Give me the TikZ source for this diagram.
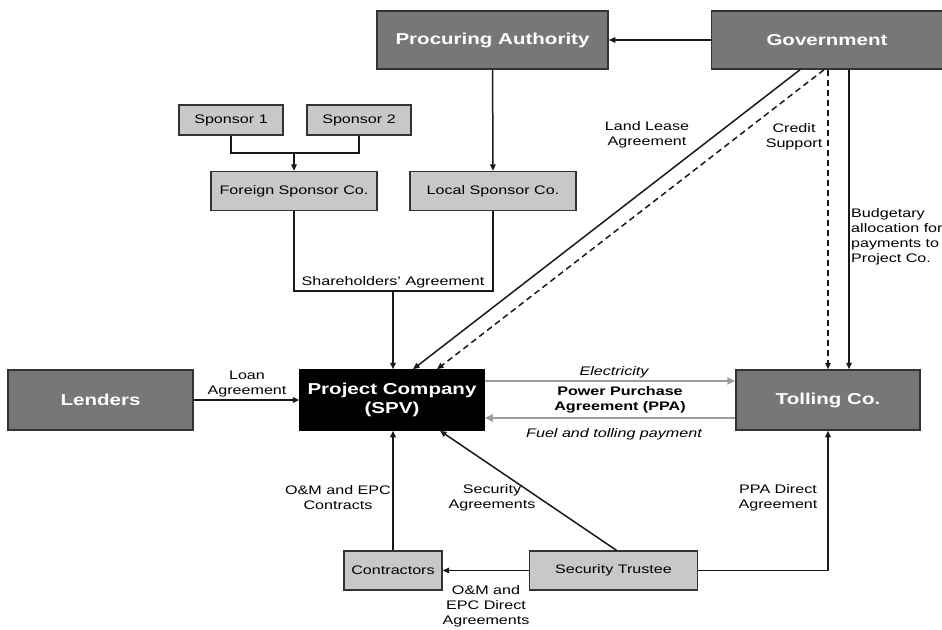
\documentclass[tikz,border=0pt]{standalone}
\usepackage{fontspec}
\setmainfont{Liberation Sans}[FakeStretch=1.3]
\usetikzlibrary{arrows.meta, positioning, calc}
\definecolor{darkbox}{HTML}{777777}
\definecolor{lightbox}{HTML}{C8C8C8}
\definecolor{edgegray}{HTML}{333333}
\definecolor{flowgray}{HTML}{9C9C9C}

\begin{document}
\begin{tikzpicture}[x=1pt, y=-1pt,
    bigbox/.style={rectangle, draw=edgegray, line width=1.5pt, fill=darkbox, text=white, inner sep=0pt, font=\fontsize{15.8}{19}\selectfont\bfseries, align=center},
    smallbox/.style={rectangle, draw=edgegray, line width=1.3pt, fill=lightbox, inner sep=0pt, font=\fontsize{12.4}{15}\selectfont},
    lbl/.style={font=\fontsize{12.4}{15}\selectfont, align=center, inner sep=0pt},
    link/.style={line width=1.5pt, draw=black!90},
    arr/.style={link, -{Triangle[length=6.5pt, width=5.5pt]}},
    flow/.style={line width=2.6pt, draw=flowgray, -{Triangle[length=8pt, width=7pt]}},
]
\useasboundingbox (0,0) rectangle (942,629);

% Top row
\node[bigbox, minimum width=231pt, minimum height=58pt] (procuring) at (492.5,40) {Procuring Authority};
\node[bigbox, minimum width=231pt, minimum height=58pt] (government) at (827,40) {Government};

% Sponsors
\node[smallbox, minimum width=104pt, minimum height=30pt] (sponsorA) at (231,120) {Sponsor 1};
\node[smallbox, minimum width=104pt, minimum height=30pt] (sponsorB) at (359,120) {Sponsor 2};
\node[smallbox, minimum width=166pt, minimum height=39pt] (foreign) at (294,191) {Foreign Sponsor Co.};
\node[smallbox, minimum width=166pt, minimum height=39pt] (local) at (493,191) {Local Sponsor Co.};

% Middle row
\node[bigbox, minimum width=185pt, minimum height=60pt] (lenders) at (100.5,400) {Lenders};
\node[bigbox, fill=black, draw=black, minimum width=184pt, minimum height=60pt] (spv) at (392,400) {Project Company\\(SPV)};
\node[bigbox, minimum width=184pt, minimum height=60pt] (tolling) at (828,400) {Tolling Co.};

% Bottom row
\node[smallbox, minimum width=98pt, minimum height=39pt] (contractors) at (393,570.5) {Contractors};
\node[smallbox, minimum width=168pt, minimum height=39pt] (trustee) at (613.5,570.5) {Security Trustee};

% Joints
\coordinate (sjoin) at (294,153);
\coordinate (shjoin) at (393,291);

% Connectors
\draw[arr] (government) -- (procuring);
\draw[arr] (procuring) -- (local);
\draw[link] (sponsorA.south) |- (sjoin) -| (sponsorB.south);
\draw[arr] (sjoin) -- (foreign.north);
\draw[link] (foreign.south) |- (shjoin) -| (local.south);
\draw[arr] (shjoin) -- (shjoin |- spv.north);
\draw[arr] ([xshift=-27pt]government.south) -- ([xshift=21pt]spv.north);
\draw[arr, dash pattern=on 6pt off 4pt] ([xshift=-3pt]government.south) -- ([xshift=45pt]spv.north);
\draw[arr, dash pattern=on 6pt off 4pt] ([xshift=1pt]government.south) -- (tolling.north);
\draw[arr] ([xshift=22pt]government.south) -- ([xshift=21pt]tolling.north);
\draw[arr] (lenders) -- (spv);
\draw[flow] ([yshift=19pt]spv.east) -- ([yshift=19pt]tolling.west);
\draw[flow] ([yshift=-18pt]tolling.west) -- ([yshift=-18pt]spv.east);
\draw[arr] (contractors.north) -- (contractors.north |- spv.south);
\draw[arr] ([xshift=3pt]trustee.north) -- ([xshift=48pt]spv.south);
\draw[arr] (trustee) -- (contractors);
\draw[arr] (trustee.east) -| (tolling.south);

% Labels
\node[lbl, anchor=south] (shlabel) at ([yshift=3pt]shjoin) {Shareholders' Agreement};
\node[lbl] (landlabel) at (647,135) {Land Lease\\Agreement};
\node[lbl] (creditlabel) at (794,137) {Credit\\Support};
\node[lbl, align=left, anchor=west] (budgetlabel) at (851,237) {Budgetary\\allocation for\\payments to\\Project Co.};
\node[lbl] (loanlabel) at (247,384) {Loan\\Agreement};
\node[lbl, font=\fontsize{12.4}{15}\selectfont\itshape] (eleclabel) at (614,372) {Electricity};
\node[lbl, font=\fontsize{12.4}{15}\selectfont\bfseries] (ppalabel) at (620,400) {Power Purchase\\Agreement (PPA)};
\node[lbl, font=\fontsize{12.4}{15}\selectfont\itshape] (fuellabel) at (614,434) {Fuel and tolling payment};
\node[lbl] (omlabel) at (338,498) {O\&M and EPC\\Contracts};
\node[lbl] (seclabel) at (492,498) {Security\\Agreements};
\node[lbl] (ppadlabel) at (778,498) {PPA Direct\\Agreement};
\node[lbl] (omdlabel) at (486,606) {O\&M and\\EPC Direct\\Agreements};

\end{tikzpicture}
\end{document}
